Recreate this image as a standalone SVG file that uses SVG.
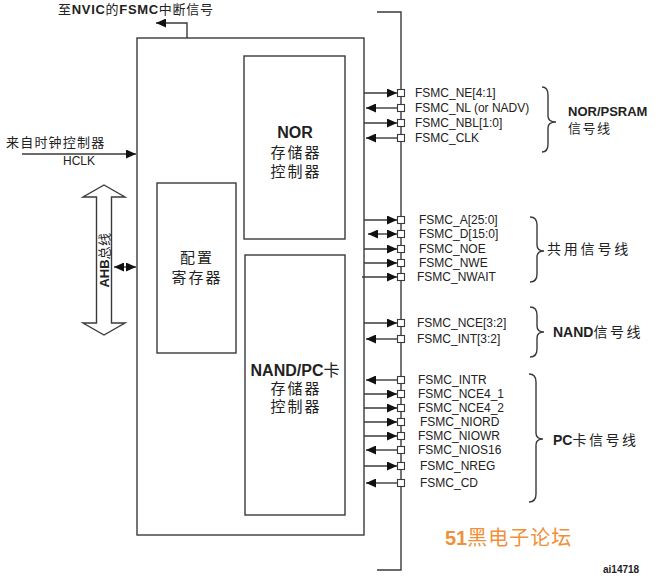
<svg xmlns="http://www.w3.org/2000/svg" width="669" height="586" viewBox="0 0 669 586">
<style>
.ln{stroke:#3a3a3a;stroke-width:1.4;fill:none}
.box{stroke:#3a3a3a;stroke-width:1.4;fill:#fff}
.pin{stroke:#3a3a3a;stroke-width:1.1;fill:#fff}
.t{font-family:"Liberation Sans","Noto Sans CJK SC",sans-serif;fill:#222}
.sig{font-size:12px}
.b{font-weight:bold}
.mid{text-anchor:middle}
.r{marker-end:url(#ah)}
.l{marker-end:url(#ah)}
.d{marker-start:url(#ah);marker-end:url(#ah)}
</style>
<defs>
<marker id="ah" markerUnits="userSpaceOnUse" markerWidth="11" markerHeight="9" refX="10" refY="4.5" orient="auto-start-reverse">
<path d="M0,0 L10,4.5 L0,9 z" fill="#111"/>
</marker>
</defs>

<g id="fsmc-outer">
<rect class="box" x="137" y="38" width="227" height="497"/>
</g>
<g id="pin-rail">
<path class="ln" d="M377,12 H401 V570 H377"/>
</g>
<g id="nor-ctrl">
<rect class="box" x="244" y="56" width="101" height="183"/>
<text class="t b mid" x="295" y="138" font-size="16">NOR</text>
<text class="t mid" x="296" y="158" font-size="15" letter-spacing="2">存储器</text>
<text class="t mid" x="296" y="177" font-size="15" letter-spacing="2">控制器</text>
</g>
<g id="nand-ctrl">
<rect class="box" x="245" y="255" width="100" height="260"/>
<text class="t mid" x="295" y="376" font-size="16"><tspan class="b">NAND/PC</tspan>卡</text>
<text class="t mid" x="296" y="394" font-size="15" letter-spacing="2">存储器</text>
<text class="t mid" x="296" y="412" font-size="15" letter-spacing="2">控制器</text>
</g>
<g id="config-reg">
<rect class="box" x="157" y="183" width="79" height="170"/>
<text class="t mid" x="197" y="263" font-size="15" letter-spacing="2">配置</text>
<text class="t mid" x="197" y="283" font-size="15" letter-spacing="2">寄存器</text>
</g>
<g id="ahb-bus">
<polygon class="box" points="104,185 125,197 111.5,197 111.5,323 125,323 104,335 83,323 96.5,323 96.5,197 83,197"/>
<text class="t mid" transform="translate(109,260) rotate(-90)" font-size="13"><tspan class="b">AHB</tspan><tspan letter-spacing="0.5">总线</tspan></text>
</g>
<g id="labels-left">
<text class="t" x="58" y="14" font-size="13" textLength="155" lengthAdjust="spacing">至<tspan class="b">NVIC</tspan>的<tspan class="b">FSMC</tspan>中断信号</text>
<text class="t" x="6" y="147" font-size="13" letter-spacing="1.2">来自时钟控制器</text>
<text class="t" x="63" y="165" font-size="12">HCLK</text>
</g>

<g id="connectors">
<path class="ln l" d="M187,38 V23 H156"/>
<line class="ln r" x1="22" y1="154" x2="136" y2="154"/>
<line class="ln d" x1="114" y1="267" x2="136" y2="267"/>
<line class="ln r" x1="364" y1="93" x2="397" y2="93"/>
<line class="ln l" x1="397" y1="108" x2="366" y2="108"/>
<line class="ln r" x1="364" y1="123" x2="397" y2="123"/>
<line class="ln l" x1="397" y1="138" x2="366" y2="138"/>
<line class="ln r" x1="364" y1="220" x2="397" y2="220"/>
<line class="ln d" x1="368" y1="234" x2="397" y2="234"/>
<line class="ln r" x1="364" y1="249" x2="397" y2="249"/>
<line class="ln r" x1="364" y1="263" x2="397" y2="263"/>
<line class="ln r" x1="362" y1="277" x2="397" y2="277"/>
<line class="ln r" x1="364" y1="323" x2="397" y2="323"/>
<line class="ln l" x1="397" y1="339" x2="366" y2="339"/>
<line class="ln l" x1="397" y1="380" x2="366" y2="380"/>
<line class="ln r" x1="364" y1="394" x2="397" y2="394"/>
<line class="ln r" x1="364" y1="408" x2="397" y2="408"/>
<line class="ln r" x1="364" y1="422" x2="397" y2="422"/>
<line class="ln r" x1="364" y1="436" x2="397" y2="436"/>
<line class="ln l" x1="397" y1="450" x2="366" y2="450"/>
<line class="ln r" x1="364" y1="466" x2="397" y2="466"/>
<line class="ln l" x1="397" y1="483" x2="366" y2="483"/>
</g>

<g id="pins">
<rect class="pin" x="397.5" y="89.5" width="7" height="7"/>
<rect class="pin" x="397.5" y="104.5" width="7" height="7"/>
<rect class="pin" x="397.5" y="119.5" width="7" height="7"/>
<rect class="pin" x="397.5" y="134.5" width="7" height="7"/>
<rect class="pin" x="397.5" y="216.5" width="7" height="7"/>
<rect class="pin" x="397.5" y="230.5" width="7" height="7"/>
<rect class="pin" x="397.5" y="245.5" width="7" height="7"/>
<rect class="pin" x="397.5" y="259.5" width="7" height="7"/>
<rect class="pin" x="397.5" y="273.5" width="7" height="7"/>
<rect class="pin" x="397.5" y="319.5" width="7" height="7"/>
<rect class="pin" x="397.5" y="335.5" width="7" height="7"/>
<rect class="pin" x="397.5" y="376.5" width="7" height="7"/>
<rect class="pin" x="397.5" y="390.5" width="7" height="7"/>
<rect class="pin" x="397.5" y="404.5" width="7" height="7"/>
<rect class="pin" x="397.5" y="418.5" width="7" height="7"/>
<rect class="pin" x="397.5" y="432.5" width="7" height="7"/>
<rect class="pin" x="397.5" y="446.5" width="7" height="7"/>
<rect class="pin" x="397.5" y="462.5" width="7" height="7"/>
<rect class="pin" x="397.5" y="479.5" width="7" height="7"/>
</g>

<g id="nor-psram-signals">
<text class="t sig" x="415" y="97">FSMC_NE[4:1]</text>
<text class="t sig" x="415" y="112">FSMC_NL (or NADV)</text>
<text class="t sig" x="415" y="127">FSMC_NBL[1:0]</text>
<text class="t sig" x="415" y="142">FSMC_CLK</text>
<path class="ln" d="M542,87 C546,87 548,89 548,95 V116 C548,120 550,122 556,122 C550,122 548,124 548,128 V144 C548,150 546,152 542,152"/>
<text class="t b" x="568" y="116" font-size="13">NOR/PSRAM</text>
<text class="t" x="568" y="133" font-size="13" letter-spacing="1.5">信号线</text>
</g>

<g id="common-signals">
<text class="t sig" x="419" y="224">FSMC_A[25:0]</text>
<text class="t sig" x="419" y="238">FSMC_D[15:0]</text>
<text class="t sig" x="419" y="253">FSMC_NOE</text>
<text class="t sig" x="419" y="267">FSMC_NWE</text>
<text class="t sig" x="417" y="281">FSMC_NWAIT</text>
<path class="ln" d="M530,217 C534,217 537,219 537,225 V245 C537,249 539,251 544,251 C539,251 537,253 537,257 V274 C537,280 534,282 530,282"/>
<text class="t" x="547" y="254" font-size="14" letter-spacing="2.8">共用信号线</text>
</g>

<g id="nand-signals">
<text class="t sig" x="417" y="327">FSMC_NCE[3:2]</text>
<text class="t sig" x="417" y="343">FSMC_INT[3:2]</text>
<path class="ln" d="M530,307 C534,307 537,309 537,315 V326 C537,330 539,332 544,332 C539,332 537,334 537,338 V349 C537,355 534,357 530,357"/>
<text class="t" x="553" y="337" font-size="14"><tspan class="b">NAND</tspan><tspan letter-spacing="2.5">信号线</tspan></text>
</g>

<g id="pc-card-signals">
<text class="t sig" x="418" y="384">FSMC_INTR</text>
<text class="t sig" x="418" y="398">FSMC_NCE4_1</text>
<text class="t sig" x="418" y="412">FSMC_NCE4_2</text>
<text class="t sig" x="420" y="426">FSMC_NIORD</text>
<text class="t sig" x="418" y="440">FSMC_NIOWR</text>
<text class="t sig" x="418" y="454">FSMC_NIOS16</text>
<text class="t sig" x="420" y="470">FSMC_NREG</text>
<text class="t sig" x="420" y="487">FSMC_CD</text>
<path class="ln" d="M529,374 C533,374 536,376 536,382 V433 C536,437 538,439 543,439 C538,439 536,441 536,445 V494 C536,500 533,502 529,502"/>
<text class="t" x="553" y="445" font-size="14"><tspan class="b">PC</tspan><tspan letter-spacing="2.5">卡信号线</tspan></text>
</g>

<g id="watermark">
<text x="445" y="545" font-family="'Liberation Sans','Noto Sans CJK SC',sans-serif" font-size="20" fill="#f0903a"><tspan font-weight="bold">51</tspan><tspan letter-spacing="1">黑电子论坛</tspan></text>
<text class="t b" x="603" y="573" font-size="10">ai14718</text>
</g>
</svg>
